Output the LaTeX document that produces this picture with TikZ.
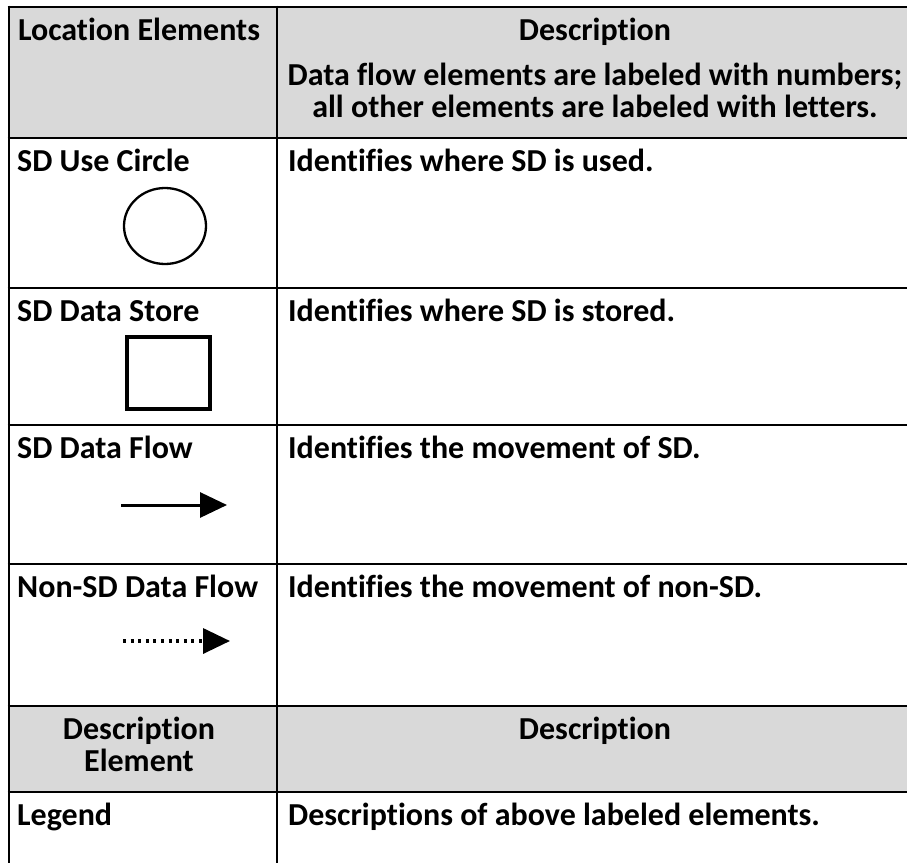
\documentclass[tikz,border=0pt]{standalone}
\usepackage{fontspec}
\setmainfont{Carlito}[Ligatures=NoCommon]
\usetikzlibrary{shapes.geometric,arrows.meta,calc}

\begin{document}
\begin{tikzpicture}[x=1pt,y=-1pt,
    rule/.style={line width=2.6pt},
    lefttext/.style={anchor=base west,inner sep=0pt,font=\fontsize{32}{32}\selectfont\bfseries},
    midtext/.style={anchor=base,inner sep=0pt,font=\fontsize{32}{32}\selectfont\bfseries},
    flowtip/.style={-{Triangle[length=27pt,width=25pt]}}]
    \clip (0,0) rectangle (907,862);

    % Grey heading rows
    \fill[gray!30] (9,7) rectangle (930,138);
    \fill[gray!30] (9,706) rectangle (930,792);

    % Table rules
    \foreach \y in {7,138,288,425,564,706,792} {
        \draw[rule] (7.7,\y) -- (930,\y);
    }
    \draw[rule] (9,5.7) -- (9,870);
    \draw[rule] (277,5.7) -- (277,870);

    % Heading
    \node[midtext] (lochead) at (139,40) {Location Elements};
    \node[midtext] (deschead) at (595,40) {Description};
    \node[midtext] (noteA) at (595,85) {Data flow elements are labeled with numbers;};
    \node[midtext] (noteB) at (595,117) {all other elements are labeled with letters.};

    % Location elements
    \foreach \y/\elem/\what [count=\i] in {171/SD Use Circle/Identifies where SD is used.,
        321/SD Data Store/Identifies where SD is stored.,
        458/SD Data Flow/Identifies the movement of SD.,
        597/Non-SD Data Flow/Identifies the movement of non-SD.} {
        \node[lefttext] (elem\i) at (17,\y) {\elem};
        \node[lefttext] (what\i) at (288,\y) {\what};
    }

    % Symbols
    \node[draw,ellipse,line width=2.3pt,minimum width=82pt,minimum height=76pt,inner sep=0pt] (usecircle) at (165,226) {};
    \node[draw,rectangle,line width=4pt,minimum width=83pt,minimum height=72pt,inner sep=0pt] (datastore) at (168.5,373) {};
    \coordinate (flowA) at (121,505);
    \coordinate (flowB) at (227,505);
    \draw[line width=3pt,flowtip] (flowA) -- (flowB);
    \coordinate (dotA) at (123,641);
    \coordinate (dotB) at (230,641);
    \draw[line width=3.5pt,dash pattern=on 3pt off 4.6pt,flowtip] (dotA) -- (dotB);

    % Description element rows
    \node[midtext] (dhead) at (139,739) {Description};
    \node[midtext] (ehead) at (139,771) {Element};
    \node[midtext] (dhead2) at (595,739) {Description};
    \node[lefttext] (legend) at (17,825) {Legend};
    \node[lefttext] (legdesc) at (288,825) {Descriptions of above labeled elements.};
\end{tikzpicture}
\end{document}
